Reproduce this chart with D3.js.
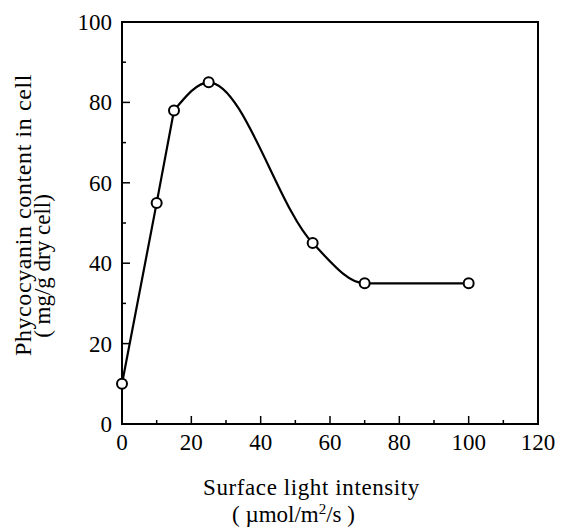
<!DOCTYPE html>
<html>
<head>
<meta charset="utf-8">
<script src="https://cdn.jsdelivr.net/npm/d3@7"></script>
<style>
  body { margin: 0; background: #fff; }
  text { font-family: "Liberation Serif", "Times New Roman", serif; fill: #000; }
</style>
</head>
<body>
<svg id="chart" width="562" height="532"></svg>
<script>
  // light intensity (umol/m2/s) vs phycocyanin content (mg/g dry cell)
  var lightIntensity = [0, 10, 15, 25, 55, 70, 100];
  var phycocyanin = [10, 55, 78, 85, 45, 35, 35];
  var xTicks = [0, 20, 40, 60, 80, 100, 120];
  var yTicks = [0, 20, 40, 60, 80, 100];

  var margin = { top: 22, right: 24, bottom: 108, left: 122 },
      outerWidth = 562,
      outerHeight = 532,
      width = outerWidth - margin.left - margin.right,
      height = outerHeight - margin.top - margin.bottom;

  var x = d3.scaleLinear().domain([0, 120]).range([0, width]);
  var y = d3.scaleLinear().domain([0, 100]).range([height, 0]);

  var data = d3.zip(lightIntensity, phycocyanin);

  var svg = d3.select("#chart")
    .append("g")
      .attr("transform", "translate(" + margin.left + "," + margin.top + ")");

  // frame
  svg.append("rect")
      .attr("width", width)
      .attr("height", height)
      .attr("fill", "none")
      .attr("stroke", "#000")
      .attr("stroke-width", 2);

  // inward ticks, long at every 20, short in between
  var minorX = d3.range(0, 121, 10), minorY = d3.range(0, 101, 10);

  svg.append("g")
    .selectAll("line")
    .data(minorX)
    .join("line")
      .attr("x1", d => x(d)).attr("x2", d => x(d))
      .attr("y1", height)
      .attr("y2", d => height - (d % 20 === 0 ? 8 : 4))
      .attr("stroke", "#000")
      .attr("stroke-width", 1.5);

  svg.append("g")
    .selectAll("line")
    .data(minorY)
    .join("line")
      .attr("y1", d => y(d)).attr("y2", d => y(d))
      .attr("x1", 0)
      .attr("x2", d => (d % 20 === 0 ? 8 : 4))
      .attr("stroke", "#000")
      .attr("stroke-width", 1.5);

  svg.append("g")
      .attr("text-anchor", "middle")
      .attr("font-size", "23px")
    .selectAll("text")
    .data(xTicks)
    .join("text")
      .attr("x", d => x(d))
      .attr("y", height + 26)
      .text(d => d);

  svg.append("g")
      .attr("text-anchor", "end")
      .attr("font-size", "23px")
    .selectAll("text")
    .data(yTicks)
    .join("text")
      .attr("x", -10)
      .attr("y", d => y(d))
      .attr("dy", "0.35em")
      .text(d => d);

  // curve: straight steep rise, then a smooth bend over the peak and down
  var rise = data.slice(0, 3), fall = data.slice(2);

  var line = d3.line()
      .x(d => x(d[0]))
      .y(d => y(d[1]));

  svg.append("path")
      .datum(rise)
      .attr("fill", "none")
      .attr("stroke", "#000")
      .attr("stroke-width", 2.2)
      .attr("stroke-linejoin", "round")
      .attr("d", line.curve(d3.curveLinear));

  svg.append("path")
      .datum(fall)
      .attr("fill", "none")
      .attr("stroke", "#000")
      .attr("stroke-width", 2.2)
      .attr("d", line.curve(d3.curveMonotoneX));

  svg.append("g")
    .selectAll("circle")
    .data(data)
    .join("circle")
      .attr("cx", d => x(d[0]))
      .attr("cy", d => y(d[1]))
      .attr("r", 5)
      .attr("fill", "#fff")
      .attr("stroke", "#000")
      .attr("stroke-width", 2);

  // axis titles
  var xTitle = svg.append("g")
      .attr("font-size", "23px");
  xTitle.append("text")
      .attr("x", 203 - margin.left)
      .attr("y", 495 - margin.top)
      .attr("letter-spacing", "0.6px")
      .text("Surface light intensity");
  var unit = xTitle.append("text")
      .attr("x", 232 - margin.left)
      .attr("y", 522 - margin.top);
  unit.append("tspan").text("( \u00b5mol/m");
  unit.append("tspan").attr("font-size", "15px").attr("dy", "-8").text("2");
  unit.append("tspan").attr("dy", "8").text("/s )");

  var yTitle = svg.append("g")
      .attr("transform", "rotate(-90)");
  yTitle.append("text")
      .attr("text-anchor", "middle")
      .attr("font-size", "24px")
      .attr("x", -(215 - margin.top))
      .attr("y", 31 - margin.left)
      .attr("letter-spacing", "0.6px")
      .text("Phycocyanin content in cell");
  yTitle.append("text")
      .attr("text-anchor", "middle")
      .attr("font-size", "23px")
      .attr("x", -(266 - margin.top))
      .attr("y", 50 - margin.left)
      .text("( mg/g dry cell)");
</script>
</body>
</html>
